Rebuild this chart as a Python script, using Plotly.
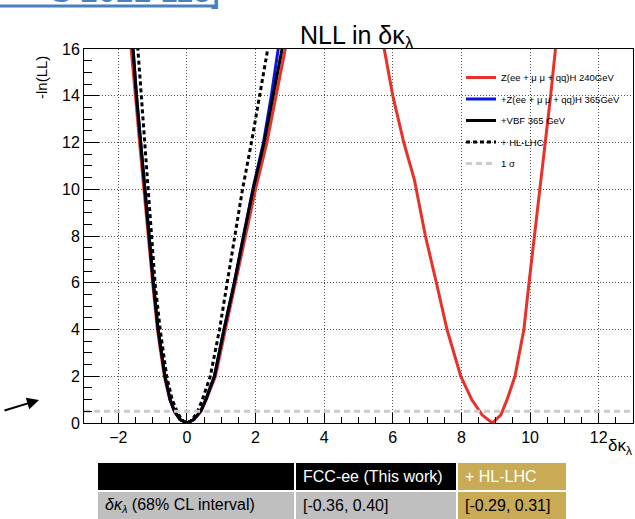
import plotly.graph_objects as go

# ---------------- data ----------------
red_name = "Z(ee + \u03bc \u03bc + qq)H 240GeV"
red_x = [-1.72, -1.62, -1.50, -1.38, -1.26, -1.13, -1.00, -0.86, -0.66, -0.50, -0.37, -0.20, 0.00,
         0.20, 0.41, 0.56, 0.83, 1.12, 1.42, 1.70, 2.00, 2.33, 2.59, 2.85, 3.20, 4.00, 4.80, 5.40,
         5.75, 6.00, 6.32, 6.63, 6.95, 7.27, 7.58, 7.98, 8.30, 8.60, 8.90, 9.15, 9.33, 9.56, 9.82,
         9.97, 10.13, 10.30, 10.45, 10.60, 10.74, 10.90]
red_y = [17.5, 16.0, 14.0, 12.0, 10.0, 8.0, 6.0, 4.0, 2.0, 1.0, 0.5, 0.15, 0.0,
         0.15, 0.5, 1.0, 2.0, 4.0, 6.0, 8.0, 10.0, 12.0, 14.0, 16.0, 18.5, 21.5, 20.5, 17.8,
         16.0, 14.0, 12.0, 10.4, 8.0, 6.0, 4.0, 2.0, 1.0, 0.35, 0.0, 0.35, 1.0, 2.0, 4.0,
         6.0, 8.0, 10.0, 12.0, 14.0, 16.0, 18.0]

blue_name = "+Z(ee + \u03bc \u03bc + qq)H 365GeV"
blue_x = [-1.64, -1.57, -1.47, -1.35, -1.24, -1.11, -0.98, -0.84, -0.64, -0.49, -0.36, -0.20, 0.00,
          0.20, 0.40, 0.55, 0.80, 1.08, 1.38, 1.65, 1.92, 2.23, 2.46, 2.66, 2.75]
blue_y = [17.0, 16.0, 14.0, 12.0, 10.0, 8.0, 6.0, 4.0, 2.0, 1.0, 0.5, 0.15, 0.0,
          0.15, 0.5, 1.0, 2.0, 4.0, 6.0, 8.0, 10.0, 12.0, 14.0, 16.0, 16.7]

black_name = "+VBF 365 GeV"
black_x = [-1.64, -1.57, -1.47, -1.35, -1.24, -1.11, -0.98, -0.84, -0.64, -0.49, -0.36, -0.20, 0.00,
           0.20, 0.40, 0.55, 0.80, 1.08, 1.38, 1.65, 1.93, 2.25, 2.50, 2.75, 2.85]
black_y = [17.0, 16.0, 14.0, 12.0, 10.0, 8.0, 6.0, 4.0, 2.0, 1.0, 0.5, 0.15, 0.0,
           0.15, 0.5, 1.0, 2.0, 4.0, 6.0, 8.0, 10.0, 12.0, 14.0, 16.0, 16.6]

hl_name = "+ HL-LHC"
hl_x = [-1.48, -1.43, -1.33, -1.24, -1.15, -1.05, -0.93, -0.78, -0.59, -0.43, -0.29, -0.15, 0.00,
        0.15, 0.31, 0.45, 0.68, 0.95, 1.17, 1.40, 1.62, 1.88, 2.12, 2.35, 2.45]
hl_y = [17.0, 16.0, 14.0, 12.0, 10.0, 8.0, 6.0, 4.0, 2.0, 1.0, 0.5, 0.12, 0.0,
        0.12, 0.5, 1.0, 2.0, 4.0, 6.0, 8.0, 10.0, 12.0, 14.0, 16.0, 16.8]

sigma_name = "1 \u03c3"
sigma_x = [-3.0, 13.0]
sigma_y = [0.5, 0.5]

x_range = [-3, 13]
y_range = [0, 16]

table_header = ["", "FCC-ee (This work)", "+ HL-LHC"]
table_row = ["<i>\u03b4\u03ba<sub>\u03bb</sub></i> (68% CL interval)", "[-0.36, 0.40]", "[-0.29, 0.31]"]

# ---------------- layout helpers (pixel -> paper) ----------------
W, H = 635, 519
L, R, T, B = 84, 633, 49, 423


def px(x):
    return (x - L) / (R - L)


def py(y):
    return (B - y) / (B - T)


FONT = "Liberation Sans, Arial, Helvetica, sans-serif"

fig = go.Figure()
fig.add_trace(go.Scatter(x=red_x, y=red_y, mode="lines", name=red_name, legendgroup="a",
                         line=dict(color="#e8312a", width=3)))
fig.add_trace(go.Scatter(x=blue_x, y=blue_y, mode="lines", name=blue_name, legendgroup="b",
                         line=dict(color="#0a14e6", width=3)))
fig.add_trace(go.Scatter(x=black_x, y=black_y, mode="lines", name=black_name, legendgroup="c",
                         line=dict(color="black", width=3)))
fig.add_trace(go.Scatter(x=hl_x, y=hl_y, mode="lines", name=hl_name, legendgroup="d",
                         line=dict(color="black", width=3, dash="4px,3px")))
fig.add_trace(go.Scatter(x=sigma_x, y=sigma_y, mode="lines", name=sigma_name, legendgroup="e",
                         line=dict(color="#cccccc", width=3, dash="6px,4px")))

axis_common = dict(
    showline=True, linecolor="black", linewidth=1, mirror=True,
    ticks="inside", tickcolor="black", tickwidth=1,
    showgrid=True, gridcolor="#555555", griddash="1px,2px", gridwidth=1,
    zeroline=False, tickfont=dict(family=FONT, size=16, color="black"),
)

fig.update_xaxes(range=x_range, dtick=2, tick0=0, ticklen=10,
                 minor=dict(dtick=0.5, tick0=0, ticks="inside", ticklen=6, tickcolor="black", showgrid=False),
                 **axis_common)
fig.update_yaxes(range=y_range, dtick=2, tick0=0, ticklen=15,
                 minor=dict(dtick=0.5, tick0=0, ticks="inside", ticklen=8, tickcolor="black", showgrid=False),
                 **axis_common)

shapes = []
annotations = []

# top-left partially visible link box
shapes.append(dict(type="line", xref="paper", yref="paper", x0=px(0), x1=px(218), y0=py(6), y1=py(6),
                   line=dict(color="#4a7fc1", width=3)))
shapes.append(dict(type="line", xref="paper", yref="paper", x0=px(216), x1=px(216), y0=py(-2), y1=py(9),
                   line=dict(color="#4a7fc1", width=3)))
annotations.append(dict(text="S 2022 115]", xref="paper", yref="paper", x=px(222), y=py(11),
                        xanchor="right", yanchor="bottom", showarrow=False,
                        font=dict(family=FONT, size=32, color="#4a7fc1")))

# title
annotations.append(dict(text="NLL in \u03b4\u03ba<sub>\u03bb</sub>", xref="paper", yref="paper",
                        x=px(357), y=py(37), xanchor="center", yanchor="middle", showarrow=False,
                        font=dict(family=FONT, size=25, color="black")))
# y title
annotations.append(dict(text="-ln(LL)", xref="paper", yref="paper", x=px(41), y=py(78),
                        xanchor="center", yanchor="middle", textangle=-90, showarrow=False,
                        font=dict(family=FONT, size=15, color="black")))
# x title
annotations.append(dict(text="\u03b4\u03ba<sub>\u03bb</sub>", xref="paper", yref="paper", x=px(634), y=py(447),
                        xanchor="right", yanchor="middle", showarrow=False,
                        font=dict(family=FONT, size=17, color="black")))
# arrow
annotations.append(dict(text="", xref="paper", yref="paper", x=px(39), y=py(400),
                        ax=-36, ay=11, showarrow=True, arrowhead=2, arrowsize=1.2, arrowwidth=2,
                        arrowcolor="black"))

# table
col_edges = [98, 295, 457, 567]
row_edges = [463, 491, 525]
fills = [["black", "black", "#c9ab55"], ["#bfbfbf", "#bfbfbf", "#c9ab55"]]
text_colors = [["white", "white", "white"], ["black", "black", "black"]]
rows = [table_header, table_row]
for r in range(2):
    for c in range(3):
        x0 = col_edges[c] + (1 if c > 0 else 0)
        x1 = col_edges[c + 1] - 1
        y0 = row_edges[r] + (1 if r > 0 else 0)
        y1 = row_edges[r + 1] - 1
        shapes.append(dict(type="rect", xref="paper", yref="paper", x0=px(x0), x1=px(x1), y0=py(y0), y1=py(y1),
                           fillcolor=fills[r][c], line=dict(width=0), layer="above"))
        if rows[r][c]:
            annotations.append(dict(text=rows[r][c], xref="paper", yref="paper", x=px(x0 + 5),
                                    y=py(477 if r == 0 else 505), xanchor="left", yanchor="middle",
                                    showarrow=False, font=dict(family=FONT, size=16, color=text_colors[r][c])))

fig.update_layout(
    width=W, height=H,
    margin=dict(l=L, r=W - R, t=T, b=H - B, pad=0),
    paper_bgcolor="white", plot_bgcolor="white",
    showlegend=True,
    legend=dict(x=px(461), y=py(63), xanchor="left", yanchor="top", bgcolor="rgba(0,0,0,0)",
                font=dict(family=FONT, size=9.5, color="black"), tracegroupgap=2.5,
                itemwidth=30),
    shapes=shapes, annotations=annotations,
)

fig.write_html("out.html")
